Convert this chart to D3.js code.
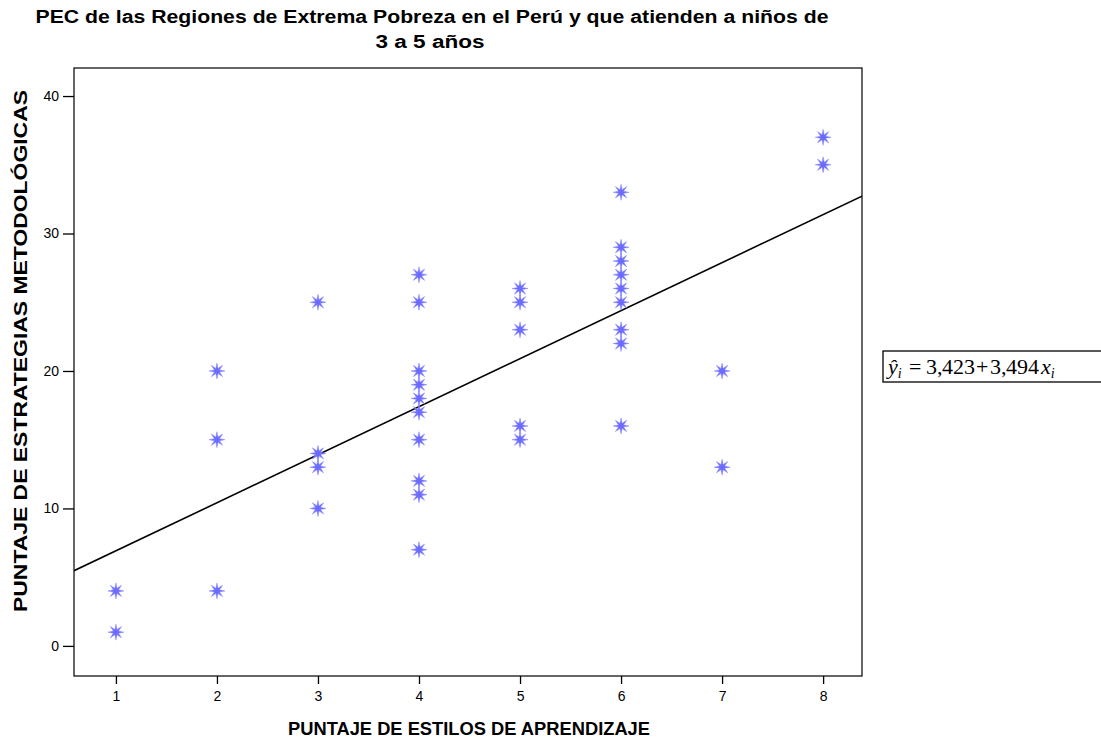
<!DOCTYPE html>
<html><head><meta charset="utf-8">
<script src="https://cdn.jsdelivr.net/npm/d3@7"></script>
<style>body{margin:0;background:#fff;}svg{display:block;}</style>
</head><body>
<script>
const xValues = [1,1, 2,2,2, 3,3,3,3, 4,4,4,4,4,4,4,4,4,4, 5,5,5,5,5, 6,6,6,6,6,6,6,6,6, 7,7, 8,8];
const yValues = [4,1, 20,15,4, 25,14,13,10, 27,25,20,19,18,17,15,12,11,7, 26,25,23,16,15, 33,29,28,27,26,25,23,22,16, 20,13, 37,35];
const xTicks = [1,2,3,4,5,6,7,8];
const yTicks = [0,10,20,30,40];
const intercept = 3.423, slope = 3.494;

const W = 1101, H = 742;
const L = 74, R = 862, T = 68, B = 676;
const sans = "Liberation Sans, Arial, sans-serif";
const svg = d3.select("body").append("svg").attr("width", W).attr("height", H);
const x = d3.scaleLinear().domain([0.585, 8.385]).range([L, R]);
const y = d3.scaleLinear().domain([-2.19, 42.04]).range([B, T]);

svg.append("text").attr("x", 432).attr("y", 23).attr("text-anchor", "middle")
  .attr("font-family", sans).attr("font-weight", "bold").attr("font-size", 18)
  .attr("textLength", 793).attr("lengthAdjust", "spacingAndGlyphs")
  .text("PEC de las Regiones de Extrema Pobreza en el Perú y que atienden a niños de");
svg.append("text").attr("x", 430).attr("y", 48).attr("text-anchor", "middle")
  .attr("font-family", sans).attr("font-weight", "bold").attr("font-size", 18)
  .attr("textLength", 109).attr("lengthAdjust", "spacingAndGlyphs")
  .text("3 a 5 años");

const plot = svg.append("g");
plot.append("clipPath").attr("id", "clip").append("rect").attr("x", L).attr("y", T).attr("width", R - L).attr("height", B - T);

const xd = x.domain();
plot.append("line").attr("clip-path", "url(#clip)")
  .attr("x1", x(xd[0])).attr("y1", y(intercept + slope * xd[0]))
  .attr("x2", x(xd[1])).attr("y2", y(intercept + slope * xd[1]))
  .attr("stroke", "#000").attr("stroke-width", 1.6);

function starPath(r, ri, n) {
  let p = "";
  for (let i = 0; i < 2 * n; i++) {
    const a = Math.PI * i / n - Math.PI / 2;
    const rr = i % 2 === 0 ? r : ri;
    p += (i === 0 ? "M" : "L") + (rr * Math.cos(a)).toFixed(2) + "," + (rr * Math.sin(a)).toFixed(2);
  }
  return p + "Z";
}
const sp = starPath(8, 2.8, 8);
plot.selectAll("path.pt").data(xValues.map((d, i) => [d, yValues[i]])).enter().append("path")
  .attr("class", "pt").attr("d", sp)
  .attr("transform", d => `translate(${x(d[0])},${y(d[1])})`)
  .attr("fill", "#6b6bff").attr("stroke", "#8a8aff").attr("stroke-width", 0.5);

svg.append("rect").attr("x", L).attr("y", T).attr("width", R - L).attr("height", B - T)
  .attr("fill", "none").attr("stroke", "#000").attr("stroke-width", 1.2);

const xAxis = svg.append("g").attr("transform", `translate(0,${B})`)
  .call(d3.axisBottom(x).tickValues(xTicks).tickSize(8).tickPadding(7).tickFormat(d3.format("d")));
const yAxis = svg.append("g").attr("transform", `translate(${L},0)`)
  .call(d3.axisLeft(y).tickValues(yTicks).tickSize(11).tickPadding(4).tickFormat(d3.format("d")));
[xAxis, yAxis].forEach(a => {
  a.attr("font-size", 14).attr("font-family", sans);
  a.select(".domain").remove();
  a.selectAll("line").attr("stroke", "#000").attr("stroke-width", 1.3);
  a.selectAll("text").attr("font-family", sans).attr("font-size", 14).attr("fill", "#000");
});

svg.append("text").attr("x", 469).attr("y", 735).attr("text-anchor", "middle")
  .attr("font-family", sans).attr("font-weight", "bold").attr("font-size", 18)
  .attr("textLength", 362).attr("lengthAdjust", "spacingAndGlyphs")
  .text("PUNTAJE DE ESTILOS DE APRENDIZAJE");
svg.append("text").attr("transform", "translate(27,351) rotate(-90)").attr("text-anchor", "middle")
  .attr("font-family", sans).attr("font-weight", "bold").attr("font-size", 19)
  .attr("textLength", 522).attr("lengthAdjust", "spacingAndGlyphs")
  .text("PUNTAJE DE ESTRATEGIAS METODOLÓGICAS");

// equation box
svg.append("rect").attr("x", 883).attr("y", 351).attr("width", 220).attr("height", 31)
  .attr("fill", "#fff").attr("stroke", "#000").attr("stroke-width", 1.3);
const eq = svg.append("text").attr("y", 374)
  .attr("font-family", "Liberation Serif, Times New Roman, serif").attr("font-size", 22);
eq.append("tspan").attr("x", 888).attr("font-style", "italic").text("ŷ");
eq.append("tspan").attr("font-style", "italic").attr("font-size", 14).attr("dy", 4).text("i");
eq.append("tspan").attr("x", 909).attr("dy", -4).text("=");
eq.append("tspan").attr("x", 926).text("3,");
eq.append("tspan").attr("x", 942).text("423");
eq.append("tspan").attr("x", 976).text("+");
eq.append("tspan").attr("x", 990).text("3,");
eq.append("tspan").attr("x", 1006).text("494");
eq.append("tspan").attr("x", 1041).attr("font-style", "italic").text("x");
eq.append("tspan").attr("font-style", "italic").attr("font-size", 14).attr("dy", 4).text("i");
</script>
</body></html>
